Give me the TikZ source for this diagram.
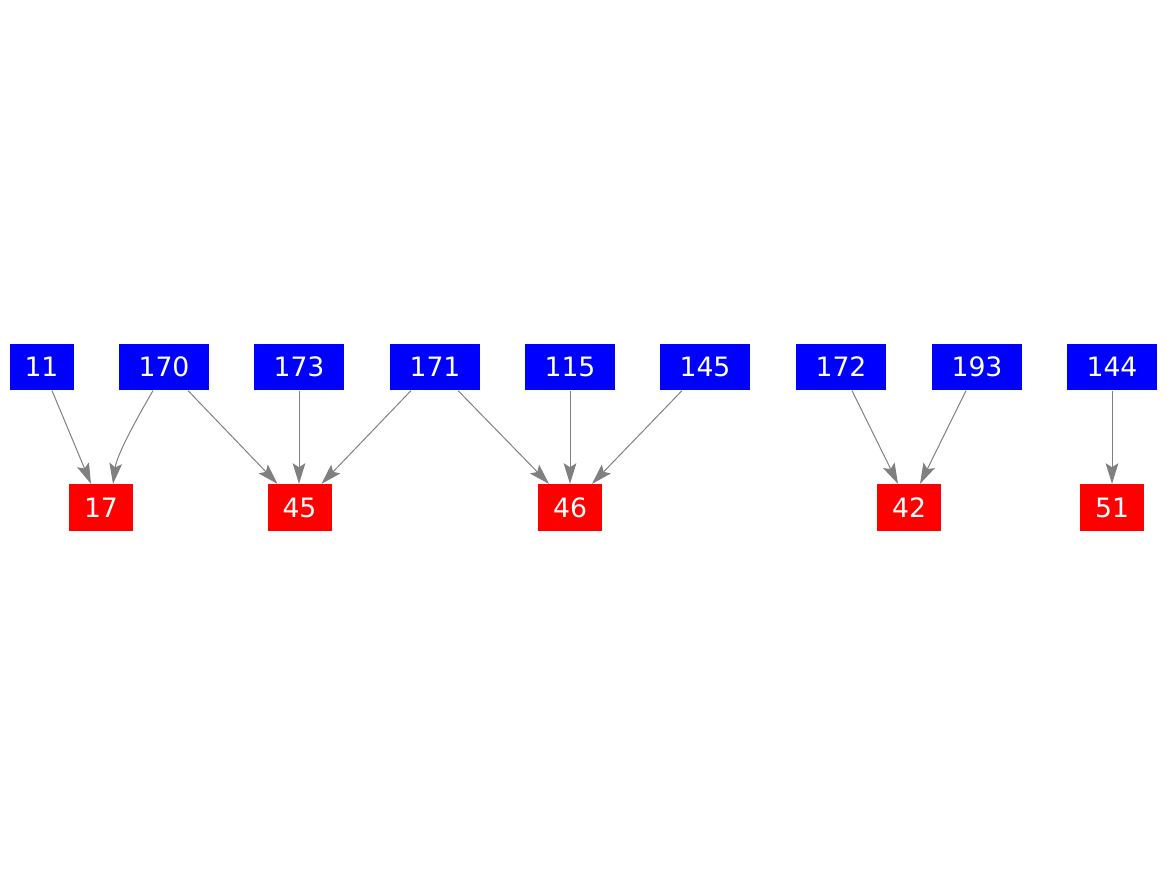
\documentclass[tikz,border=0pt]{standalone}
\usepackage{fontspec}
\setmainfont{DejaVu Sans}
\usetikzlibrary{arrows.meta,calc}
\definecolor{srcblue}{HTML}{0000FF}
\definecolor{dstred}{HTML}{FF0000}
\definecolor{edgegray}{HTML}{808080}

\begin{document}
\begin{tikzpicture}[x=0.75pt, y=-0.75pt,
        every node/.style={font=\fontsize{20}{24}\selectfont, text=white, inner sep=0pt},
        src/.style={fill=srcblue, minimum width=67.5pt, minimum height=35pt},
        dst/.style={fill=dstred, minimum width=48pt, minimum height=35pt},
        edge/.style={-{Stealth[length=15.5pt, width=9.5pt, inset=3pt]}, draw=edgegray, line width=0.75pt}]
        \useasboundingbox (0,0) rectangle (1167,875);

        % sources
        \node[src, minimum width=48pt] (n11) at (41.5,367) {11};
        \node[src] (n170) at (164,367) {170};
        \node[src] (n173) at (299,367) {173};
        \node[src] (n171) at (435,367) {171};
        \node[src] (n115) at (570,367) {115};
        \node[src] (n145) at (705,367) {145};
        \node[src] (n172) at (841,367) {172};
        \node[src] (n193) at (977,367) {193};
        \node[src] (n144) at (1112,367) {144};

        % targets
        \node[dst] (n17) at (101,507.5) {17};
        \node[dst] (n45) at (299.5,507.5) {45};
        \node[dst] (n46) at (570,507.5) {46};
        \node[dst] (n42) at (909,507.5) {42};
        \node[dst] (n51) at (1112,507.5) {51};

        \draw[edge] ($(n11.south)+(10.5,0)$) -- ($(n17.north)+(-10,0)$);
        \draw[edge] ($(n170.south)+(-11,0)$) .. controls +(-14,24) and +(4,-30) .. ($(n17.north)+(12,0)$);
        \draw[edge] ($(n170.south)+(24,0)$) -- ($(n45.north)+(-22,0)$);
        \draw[edge] (n173.south) -- (n45.north -| n173.south);
        \draw[edge] ($(n171.south)+(-24,0)$) -- ($(n45.north)+(22,0)$);
        \draw[edge] ($(n171.south)+(23,0)$) -- ($(n46.north)+(-21,0)$);
        \draw[edge] (n115.south) -- (n46.north);
        \draw[edge] ($(n145.south)+(-23,0)$) -- ($(n46.north)+(22,0)$);
        \draw[edge] ($(n172.south)+(11,0)$) -- ($(n42.north)+(-11,0)$);
        \draw[edge] ($(n193.south)+(-11,0)$) -- ($(n42.north)+(11,0)$);
        \draw[edge] (n144.south) -- (n51.north);
\end{tikzpicture}
\end{document}
